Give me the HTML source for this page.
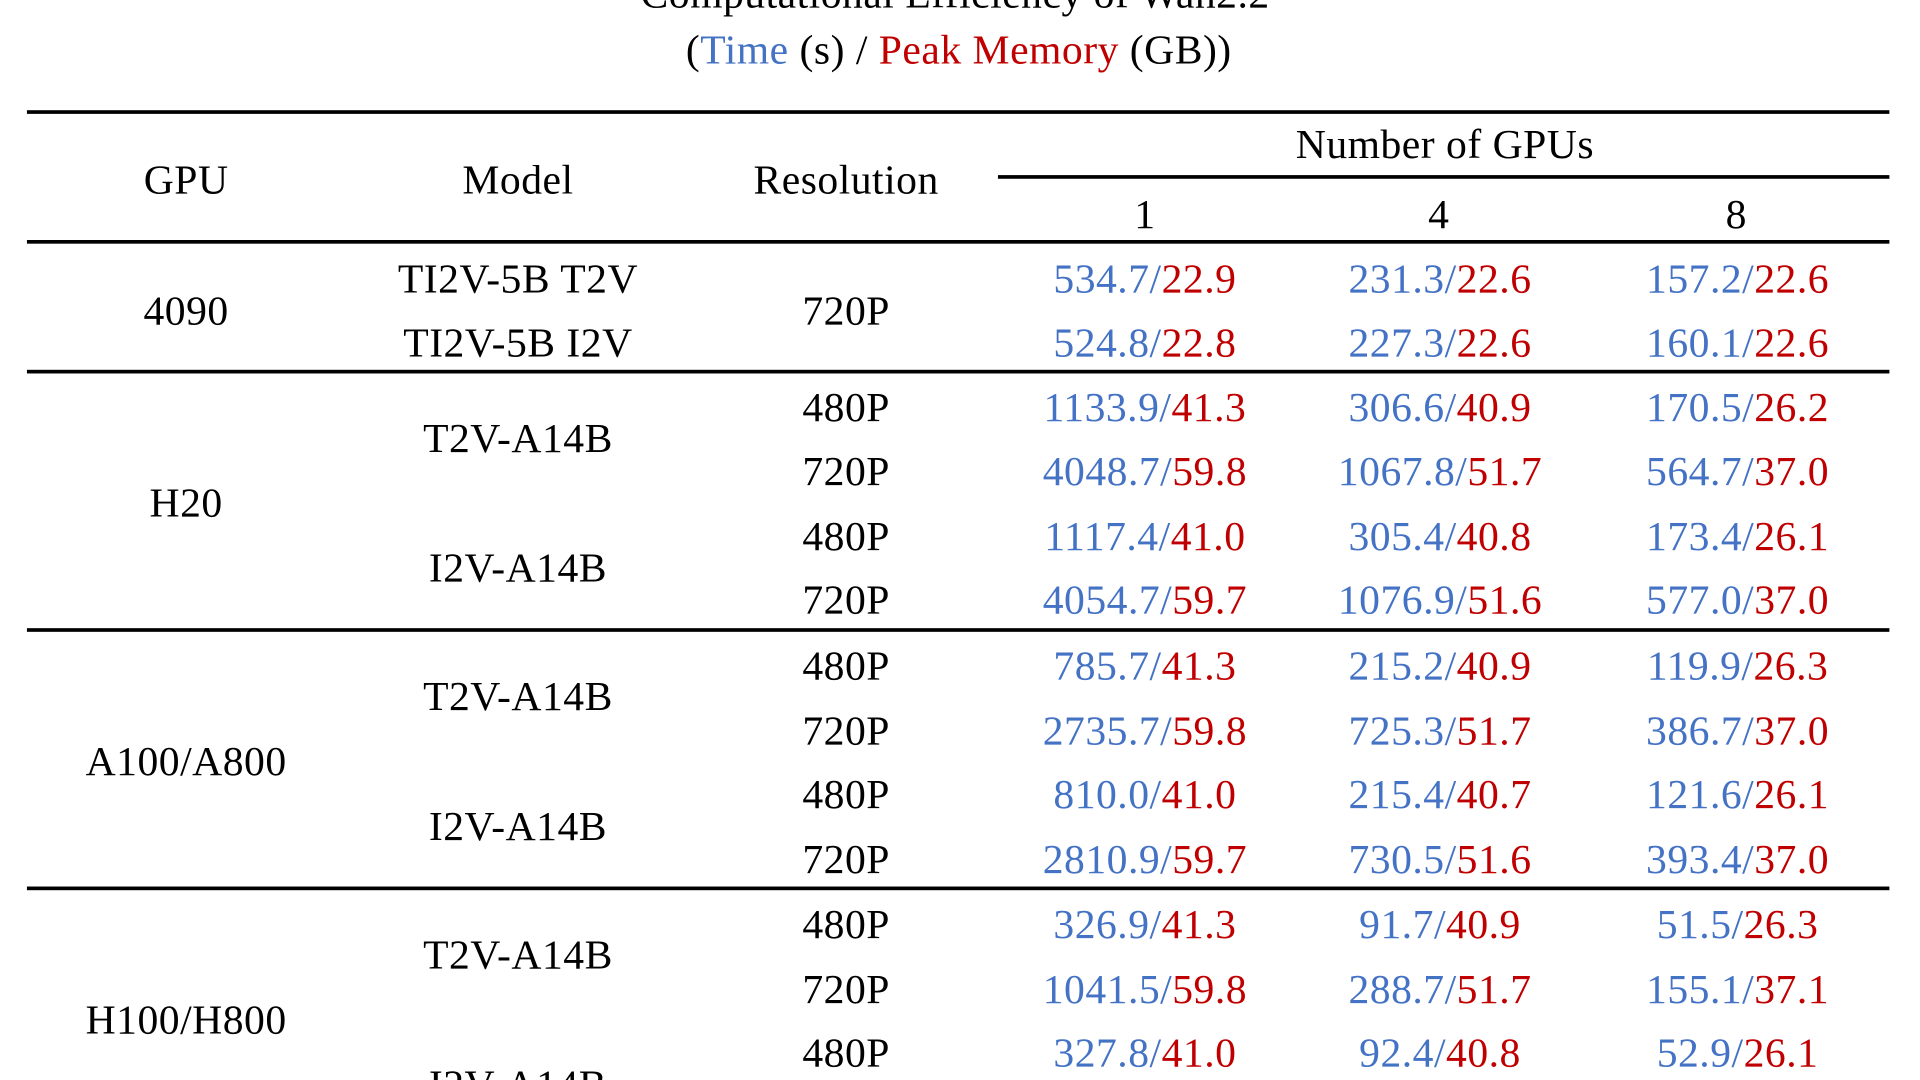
<!DOCTYPE html>
<html><head><meta charset="utf-8"><style>
html,body{margin:0;padding:0;background:#fff;overflow:hidden;width:1920px;height:1080px}
#stage{position:absolute;left:0;top:0;width:1568px;height:882px;overflow:hidden;transform:scale(1.22449);transform-origin:0 0;font-family:"Liberation Serif",serif;font-size:34px;letter-spacing:0.4px;color:#000}
.t{position:absolute;transform:translate(-50%,-50%);white-space:nowrap;line-height:1}
.r{position:absolute;background:#000;height:3px}
.b{color:#4472c4}.d{color:#c00000}
</style></head><body>
<div id="stage">
<div class="t" style="left:780px;top:-4px">Computational Efficiency of Wan2.2</div>
<div class="t" style="left:783px;top:42px">(<span class="b">Time</span> (s) / <span class="d">Peak Memory</span> (GB))</div>
<div class="r" style="left:22px;top:90px;width:1521px"></div>
<div class="r" style="left:815px;top:143px;width:728px"></div>
<div class="r" style="left:22px;top:196px;width:1521px"></div>
<div class="r" style="left:22px;top:302px;width:1521px"></div>
<div class="r" style="left:22px;top:513px;width:1521px"></div>
<div class="r" style="left:22px;top:724px;width:1521px"></div>
<div class="t" style="left:1180px;top:119px">Number of GPUs</div>
<div class="t" style="left:152px;top:148px">GPU</div>
<div class="t" style="left:423px;top:148px">Model</div>
<div class="t" style="left:691px;top:148px">Resolution</div>
<div class="t" style="left:935px;top:176px">1</div>
<div class="t" style="left:1175px;top:176px">4</div>
<div class="t" style="left:1418px;top:176px">8</div>
</div>
<script>
const rowY=[229,281,334,386,439,491,545,598,650,703,756,809,861,914];
const gpuLabels=[["4090",255],["H20",412],["A100/A800",623],["H100/H800",834]];
const models=[["TI2V-5B T2V",229],["TI2V-5B I2V",281],["T2V-A14B",359],["I2V-A14B",465],["T2V-A14B",570],["I2V-A14B",676],["T2V-A14B",781],["I2V-A14B",887]];
const resolutions=[["720P",255],["480P",334],["720P",386],["480P",439],["720P",491],["480P",545],["720P",598],["480P",650],["720P",703],["480P",756],["720P",809],["480P",861],["720P",914]];
const times=[["534.7","231.3","157.2"],["524.8","227.3","160.1"],["1133.9","306.6","170.5"],["4048.7","1067.8","564.7"],["1117.4","305.4","173.4"],["4054.7","1076.9","577.0"],["785.7","215.2","119.9"],["2735.7","725.3","386.7"],["810.0","215.4","121.6"],["2810.9","730.5","393.4"],["326.9","91.7","51.5"],["1041.5","288.7","155.1"],["327.8","92.4","52.9"]];
const mems=[["22.9","22.6","22.6"],["22.8","22.6","22.6"],["41.3","40.9","26.2"],["59.8","51.7","37.0"],["41.0","40.8","26.1"],["59.7","51.6","37.0"],["41.3","40.9","26.3"],["59.8","51.7","37.0"],["41.0","40.7","26.1"],["59.7","51.6","37.0"],["41.3","40.9","26.3"],["59.8","51.7","37.1"],["41.0","40.8","26.1"]];
const colX=[935,1176,1419];
const st=document.getElementById('stage');
function add(x,y,html,name){const e=document.createElement('div');e.className='t';e.style.left=x+'px';e.style.top=y+'px';e.innerHTML=html;


st.appendChild(e);}
gpuLabels.forEach(g=>add(152,g[1],g[0],'gpu-label'));
models.forEach(m=>add(423,m[1],m[0],'model-label'));
resolutions.forEach(r=>add(691,r[1],r[0],'resolution-label'));
times.forEach((row,i)=>row.forEach((t,j)=>add(colX[j],rowY[i],'<span class="b">'+t+'/</span><span class="d">'+mems[i][j]+'</span>','time-memory-cell')));
</script>
</body></html>
